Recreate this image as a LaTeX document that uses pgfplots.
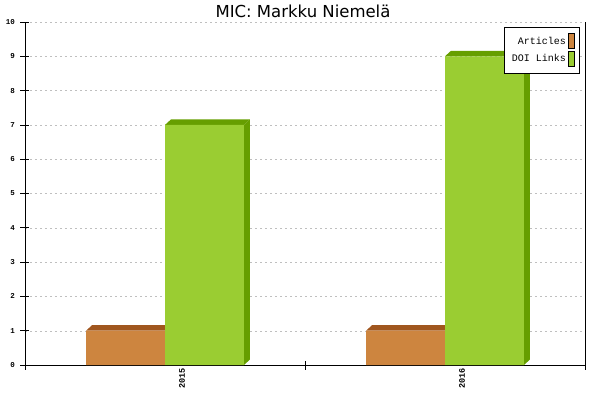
\documentclass[border=0pt]{standalone}
\usepackage{pgfplots}
\pgfplotsset{compat=1.18}
\usepackage{fontspec}
\setmainfont{DejaVu Sans}
\newfontfamily\mono{Liberation Mono}
\definecolor{artF}{HTML}{CD853F}
\definecolor{artD}{HTML}{A0561E}
\definecolor{doiF}{HTML}{9ACD32}
\definecolor{doiD}{HTML}{669E00}
\begin{document}
\begin{tikzpicture}
\useasboundingbox (0,0) rectangle (600pt,400pt);
\node[font=\fontsize{16.5}{18}\selectfont] at (303pt,389pt) {MIC: Markku Niemelä};
\begin{axis}[
  at={(25pt,35pt)}, anchor=south west,
  scale only axis, width=560pt, height=343pt,
  axis lines*=left,
  xmin=-0.5, xmax=1.5, ymin=0, ymax=10,
  xtick={-0.5,0.5,1.5}, xticklabels={},
  extra x ticks={0,1}, extra x tick labels={2015,2016},
  extra x tick style={major tick length=0pt, xticklabel style={rotate=90, anchor=east, font=\mono\bfseries\fontsize{8.5}{9}\selectfont, yshift=-17pt}},
  ytick={0,1,...,10},
  tick align=center, major tick length=9pt,
  tick style={black, line width=0.8pt},
  axis line style={line width=0.8pt},
  ymajorgrids=true,
  major grid style={gray!50, dash pattern=on 2pt off 3pt},
  yticklabel style={font=\mono\bfseries\fontsize{7.5}{8}\selectfont, xshift=-2pt},
  /pgf/number format/assume math mode=true,
  clip=false,
  legend image code/.code={\draw[#1] (3pt,-7.5pt) rectangle (9pt,7.5pt);},
  legend plot pos=right, legend cell align=right,
  legend style={at={(rel axis cs:1,1)}, anchor=north east, xshift=-5pt, yshift=-5pt,
    font=\mono\fontsize{10}{12}\selectfont, draw=black, line width=0.8pt,
    row sep=2pt, inner xsep=5pt, inner ysep=6pt},
]
% orange top faces
\addplot[fill=artD, draw=none, forget plot] coordinates {(-0.282,1) (-0.2606,1.16) (0.0214,1.16) (0,1)} -- cycle;
\addplot[fill=artD, draw=none, forget plot] coordinates {(0.718,1) (0.7394,1.16) (1.0214,1.16) (1,1)} -- cycle;
% orange front faces
\addplot[ybar, bar width=0.282, bar shift=-0.141, fill=artF, draw=none, forget plot] coordinates {(0,1) (1,1)};
% green top and side faces
\addplot[fill=doiD, draw=none, forget plot] coordinates {(0,7) (0.0214,7.16) (0.3034,7.16) (0.282,7)} -- cycle;
\addplot[fill=doiD, draw=none, forget plot] coordinates {(0.282,0) (0.3034,0.16) (0.3034,7.16) (0.282,7)} -- cycle;
\addplot[fill=doiD, draw=none, forget plot] coordinates {(1,9) (1.0214,9.16) (1.3034,9.16) (1.282,9)} -- cycle;
\addplot[fill=doiD, draw=none, forget plot] coordinates {(1.282,0) (1.3034,0.16) (1.3034,9.16) (1.282,9)} -- cycle;
% green front faces
\addplot[ybar, bar width=0.282, bar shift=0.141, fill=doiF, draw=none, forget plot] coordinates {(0,7) (1,9)};
\draw[black, line width=0.8pt] (rel axis cs:1,0) -- (rel axis cs:1,1);
\addlegendimage{fill=artF, draw=black, line width=0.8pt}
\addlegendentry{Articles}
\addlegendimage{fill=doiF, draw=black, line width=0.8pt}
\addlegendentry{DOI Links}
\end{axis}
\end{tikzpicture}
\end{document}
